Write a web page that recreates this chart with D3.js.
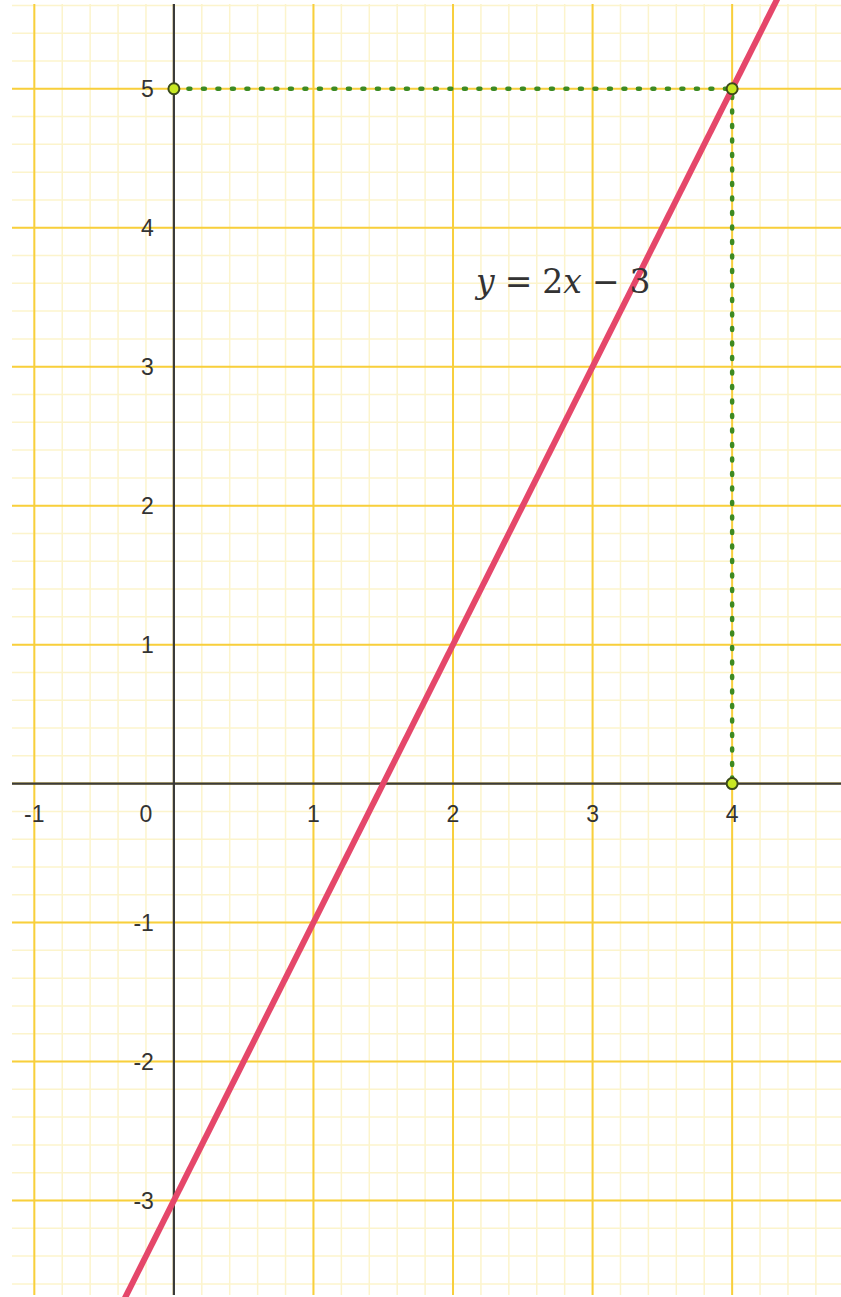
<!DOCTYPE html>
<html><head><meta charset="utf-8">
<script src="https://cdn.jsdelivr.net/npm/d3@7"></script>
<style>body{margin:0;background:#fff}</style>
</head><body>
<svg id="c" width="841" height="1297"></svg>
<script>
const xTicks = [-1, 0, 1, 2, 3, 4];
const yTicks = [-3, -2, -1, 1, 2, 3, 4, 5];
const xTickLabels = ["-1", "0", "1", "2", "3", "4"];
const yTickLabels = ["-3", "-2", "-1", "1", "2", "3", "4", "5"];
const slope = 2, intercept = -3;
const guidePoints = [[0, 5], [4, 5], [4, 0]];
const xDomain = [-1.16, 4.78];
const yDomain = [-3.68, 5.61];

const svg = d3.select("#c");
const x = d3.scaleLinear().domain(xDomain).range([12, 841]);
const y = d3.scaleLinear().domain(yDomain).range([1295, 4]);

const minorX = d3.range(Math.ceil(xDomain[0]*5), Math.floor(xDomain[1]*5)+1).map(d=>d/5);
const minorY = d3.range(Math.ceil(yDomain[0]*5), Math.floor(yDomain[1]*5)+1).map(d=>d/5);
const g = svg.append("g");
g.selectAll(".mx").data(minorX).join("line")
  .attr("x1", d=>x(d)).attr("x2", d=>x(d)).attr("y1", y(yDomain[1])).attr("y2", y(yDomain[0]))
  .attr("stroke", "#fcf4cc").attr("stroke-width", 1.5);
g.selectAll(".my").data(minorY).join("line")
  .attr("y1", d=>y(d)).attr("y2", d=>y(d)).attr("x1", x(xDomain[0])).attr("x2", x(xDomain[1]))
  .attr("stroke", "#fcf4cc").attr("stroke-width", 1.5);
g.selectAll(".Mx").data(xTicks.concat([0])).join("line")
  .attr("x1", d=>x(d)).attr("x2", d=>x(d)).attr("y1", y(yDomain[1])).attr("y2", y(yDomain[0]))
  .attr("stroke", "#f8cf3c").attr("stroke-width", 2);
g.selectAll(".My").data(yTicks.concat([0])).join("line")
  .attr("y1", d=>y(d)).attr("y2", d=>y(d)).attr("x1", x(xDomain[0])).attr("x2", x(xDomain[1]))
  .attr("stroke", "#f8cf3c").attr("stroke-width", 2);

// axes
svg.append("line").attr("x1", x(xDomain[0])).attr("x2", x(xDomain[1])).attr("y1", y(0)).attr("y2", y(0))
  .attr("stroke", "#3a3a3a").attr("stroke-width", 2.2);
svg.append("line").attr("x1", x(0)).attr("x2", x(0)).attr("y1", y(yDomain[1])).attr("y2", y(yDomain[0]))
  .attr("stroke", "#3a3a3a").attr("stroke-width", 2.2);

// tick labels
svg.selectAll(".xl").data(xTicks).join("text")
  .attr("x", (d,i)=> d===0 ? x(0)-28 : x(d)).attr("y", y(0)+38)
  .attr("text-anchor", "middle").attr("font-family", "Liberation Sans, Arial, sans-serif")
  .attr("font-size", 23).attr("fill", "#333").text((d,i)=>xTickLabels[i]);
svg.selectAll(".yl").data(yTicks).join("text")
  .attr("x", x(0)-20).attr("y", d=>y(d)+8)
  .attr("text-anchor", "end").attr("font-family", "Liberation Sans, Arial, sans-serif")
  .attr("font-size", 23).attr("fill", "#333").text((d,i)=>yTickLabels[i]);

// guide dotted lines
const guide = d3.line().x(d=>x(d[0])).y(d=>y(d[1]));
svg.append("path").attr("d", guide(guidePoints)).attr("fill", "none")
  .attr("stroke", "#3d8a22").attr("stroke-width", 4.5).attr("stroke-dasharray", "2 12.5")
  .attr("stroke-linecap", "round");

// main line
svg.append("path").attr("d", guide(xDomain.map(v=>[v, slope*v+intercept])))
  .attr("stroke", "#e5476a").attr("stroke-width", 6).attr("fill", "none");

// points
svg.selectAll(".pt").data(guidePoints).join("circle")
  .attr("cx", d=>x(d[0])).attr("cy", d=>y(d[1])).attr("r", 5.5)
  .attr("fill", "#c8e823").attr("stroke", "#3b4a1a").attr("stroke-width", 2);

// equation label
const t = svg.append("text").attr("x", 476).attr("y", 293)
  .attr("font-family", "DejaVu Serif, Liberation Serif, serif").attr("font-size", 33).attr("fill", "#333");
t.append("tspan").attr("font-style", "italic").text("y");
t.append("tspan").attr("dx", 10).text("=");
t.append("tspan").attr("dx", 10).text("2");
t.append("tspan").attr("font-style", "italic").text("x");
t.append("tspan").attr("dx", 10).text("−");
t.append("tspan").attr("dx", 10).text("3");
</script>
</body></html>
